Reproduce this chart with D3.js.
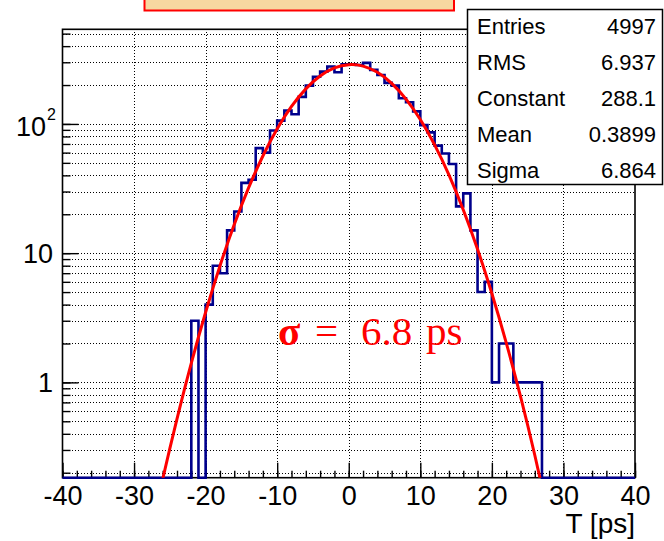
<!DOCTYPE html>
<html>
<head>
<meta charset="utf-8">
<script src="https://cdn.jsdelivr.net/npm/d3@7"></script>
<style>
  body { margin: 0; background: #fff; }
  svg { display: block; }
</style>
</head>
<body>
<svg id="chart" width="664" height="541"></svg>
<script>
// histogram T [ps]: 1 ps bins from -40 to 40, bins outside firstBin..26 are empty
const binLow = -40, binHigh = 40, binWidth = 1;
const firstBin = -22;
const counts = [3, 0, 4, 8, 7, 15, 21, 35, 37, 65, 60, 89, 106, 127, 119,
  162, 198, 232, 254, 278, 251, 290, 290, 286, 297, 262, 239, 208, 198,
  158, 147, 125, 98, 86, 68, 59, 49, 23, 29, 15, 5, 6, 1, 2, 2, 1, 1, 1, 1];

// gaussian fit curve, every 2 ps
const fitT = [-28, -26, -24, -22, -20, -18, -16, -14, -12, -10, -8, -6, -4, -2, 0,
  2, 4, 6, 8, 10, 12, 14, 16, 18, 20, 22, 24, 26, 28];
const fitY = [0.056, 0.178, 0.522, 1.41, 3.49, 7.96, 16.65, 31.98, 56.5, 91.6, 136.5,
  186.8, 234.8, 271.2, 287.6, 280.3, 250.9, 206.3, 155.8, 108.1, 68.9, 40.4, 21.7,
  10.72, 4.87, 2.03, 0.778, 0.273, 0.088];

const statNames = ["Entries", "RMS", "Constant", "Mean", "Sigma"];
const statValues = ["4997", "6.937", "288.1", "0.3899", "6.864"];

const xLabels = [-40, -30, -20, -10, 0, 10, 20, 30, 40];
const yLabels = [1, 10, 100];
const yMin = 0.183, yMax = 540;

const frame = { left: 62.5, right: 635, top: 29.3, bottom: 477.7 };
const sans = "'Liberation Sans', Arial, Helvetica, sans-serif";

const svg = d3.select("#chart");

const x = d3.scaleLinear().domain([binLow, binHigh]).range([frame.left, frame.right]);
const y = d3.scaleLog().domain([yMin, yMax]).range([frame.bottom, frame.top]);

// title box, cut by the top of the picture
svg.append("rect")
    .attr("x", 144.5).attr("y", -10)
    .attr("width", 309.5).attr("height", 20.5)
    .attr("fill", "#f7d8a0")
    .attr("stroke", "#ff0000")
    .attr("stroke-width", 2);

svg.append("clipPath").attr("id", "frameClip")
  .append("rect")
    .attr("x", frame.left).attr("y", frame.top)
    .attr("width", frame.right - frame.left)
    .attr("height", frame.bottom - frame.top);

// grid
const grid = svg.append("g")
    .attr("stroke", "#000")
    .attr("stroke-width", 1)
    .attr("stroke-dasharray", "1,2")
    .attr("shape-rendering", "crispEdges");

grid.selectAll(".gx")
  .data(xLabels.slice(1, -1))
  .enter().append("line")
    .attr("x1", d => Math.round(x(d)) + 0.5).attr("x2", d => Math.round(x(d)) + 0.5)
    .attr("y1", frame.top).attr("y2", frame.bottom);

grid.selectAll(".gy")
  .data(y.ticks())
  .enter().append("line")
    .attr("x1", frame.left).attr("x2", frame.right)
    .attr("y1", d => Math.round(y(d)) + 0.5).attr("y2", d => Math.round(y(d)) + 0.5);

// ticks
const tickG = svg.append("g");

tickG.append("g")
    .attr("transform", `translate(0,${frame.bottom})`)
    .call(d3.axisBottom(x).tickValues(d3.range(binLow, binHigh + 1, 2)).tickSize(-7).tickFormat(""))
    .call(g => g.select(".domain").remove());

tickG.append("g")
    .attr("transform", `translate(0,${frame.bottom})`)
    .call(d3.axisBottom(x).tickValues(xLabels).tickSize(-15).tickPadding(8)
        .tickFormat(d => String(d)))
    .call(g => g.select(".domain").remove())
    .call(g => g.selectAll("text")
        .attr("font-family", sans)
        .attr("font-size", 27)
        .attr("fill", "#000"));

tickG.append("g")
    .attr("transform", `translate(${frame.left},0)`)
    .call(d3.axisLeft(y).tickValues(y.ticks()).tickSize(-8).tickFormat(""))
    .call(g => g.select(".domain").remove());

tickG.append("g")
    .attr("transform", `translate(${frame.left},0)`)
    .call(d3.axisLeft(y).tickValues(yLabels).tickSize(-16).tickFormat(""))
    .call(g => g.select(".domain").remove());

tickG.selectAll("line").attr("stroke", "#000").attr("stroke-width", 1.4);

// y labels, 10^2 drawn with a superscript
const yLab = svg.append("g")
    .attr("font-family", sans)
    .attr("font-size", 27)
    .attr("fill", "#000");

yLabels.forEach(v => {
  if (v === 100) {
    yLab.append("text")
        .attr("x", 46).attr("y", y(v) + 12)
        .attr("text-anchor", "end")
        .text("10");
    yLab.append("text")
        .attr("x", 47).attr("y", y(v) - 4)
        .attr("font-size", 16)
        .text("2");
  } else {
    yLab.append("text")
        .attr("x", 53).attr("y", y(v) + 9.7)
        .attr("text-anchor", "end")
        .text(String(v));
  }
});

svg.append("text")
    .attr("x", frame.right).attr("y", 533)
    .attr("text-anchor", "end")
    .attr("font-family", sans)
    .attr("font-size", 28)
    .text("T [ps]");

// frame
svg.append("rect")
    .attr("x", frame.left).attr("y", frame.top)
    .attr("width", frame.right - frame.left)
    .attr("height", frame.bottom - frame.top)
    .attr("fill", "none")
    .attr("stroke", "#000")
    .attr("stroke-width", 1.6);

// histogram outline, empty bins sit on the frame bottom
const bins = d3.range(binLow, binHigh, binWidth).map(lo => {
  const i = lo - firstBin;
  const c = (i >= 0 && i < counts.length) ? counts[i] : 0;
  return { lo: lo, hi: lo + binWidth, c: c };
});

const histPts = [];
bins.forEach(b => {
  const v = b.c > 0 ? b.c : yMin;
  histPts.push([x(b.lo), y(v)]);
  histPts.push([x(b.hi), y(v)]);
});

svg.append("path")
    .attr("d", d3.line()(histPts))
    .attr("fill", "none")
    .attr("stroke", "#00008c")
    .attr("stroke-width", 2.6)
    .attr("stroke-linejoin", "miter");

// fit
svg.append("path")
    .attr("clip-path", "url(#frameClip)")
    .attr("d", d3.line()
        .x((d, i) => x(fitT[i]))
        .y(d => y(d))
        .curve(d3.curveNatural)(fitY))
    .attr("fill", "none")
    .attr("stroke", "#ff0000")
    .attr("stroke-width", 3);

// annotation
const note = svg.append("text")
    .attr("y", 345)
    .attr("font-family", "'Liberation Serif', 'Times New Roman', serif")
    .attr("font-size", 41)
    .attr("fill", "#ff0000");
note.append("tspan").attr("x", 278).attr("font-weight", "bold").text("σ");
note.append("tspan").attr("x", 315).attr("textLength", 29).text("=");
note.append("tspan").attr("x", 361).text("6.8");
note.append("tspan").attr("x", 426).text("ps");

// stats box
const stats = svg.append("g");
stats.append("rect")
    .attr("x", 467.5).attr("y", 9.5)
    .attr("width", 195).attr("height", 175)
    .attr("fill", "#fff")
    .attr("stroke", "#000")
    .attr("stroke-width", 1.5);

statNames.forEach((name, i) => {
  stats.append("text")
      .attr("x", 477).attr("y", 33.5 + i * 36)
      .attr("font-family", sans).attr("font-size", 22)
      .text(name);
  stats.append("text")
      .attr("x", 656).attr("y", 33.5 + i * 36)
      .attr("text-anchor", "end")
      .attr("font-family", sans).attr("font-size", 22)
      .text(statValues[i]);
});
</script>
</body>
</html>
